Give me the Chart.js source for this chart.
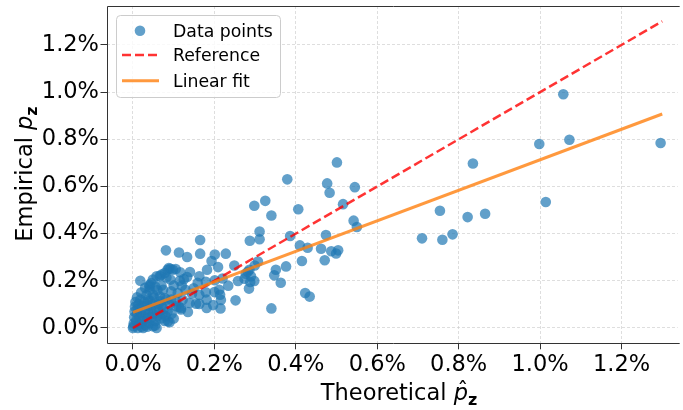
<!DOCTYPE html>
<html>
<head>
<meta charset="utf-8">
<script src="https://cdn.jsdelivr.net/npm/chart.js@4.4.1/dist/chart.umd.min.js"></script>
<style>
  html, body { margin: 0; padding: 0; background: #fff; overflow: hidden; }
</style>
</head>
<body>
<canvas id="chart" width="683" height="410"></canvas>
<script>
"use strict";

// theoretical p_z in percent (x)
const theoX = [
  // right side
  0.710, 0.754, 0.760, 0.785, 0.822, 0.835, 0.865, 0.998, 1.014, 1.057, 1.072, 1.296,
  // middle
  0.501, 0.379, 0.477, 0.483, 0.545, 0.516, 0.325, 0.298, 0.340, 0.406,
  0.542, 0.550, 0.311, 0.311, 0.287, 0.386, 0.474, 0.410, 0.429, 0.462,
  0.487, 0.504, 0.499, 0.415, 0.471, 0.307, 0.299, 0.376, 0.351, 0.347,
  0.363, 0.298, 0.288, 0.285, 0.423, 0.434, 0.340,
  // left-middle
  0.165, 0.165, 0.201, 0.228, 0.193, 0.209, 0.182, 0.249, 0.163, 0.201,
  0.220, 0.179, 0.258, 0.274, 0.282, 0.290, 0.234, 0.212, 0.214, 0.216,
  0.252, 0.181, 0.181, 0.197, 0.215, 0.163, 0.163, 0.286, 0.277, 0.200,
  // left cluster
  0.081, 0.113, 0.133, 0.018, 0.049, 0.066, 0.085, 0.092, 0.098, 0.140,
  0.092, 0.125, 0.133, 0.040, 0.041, 0.074, 0.094, 0.110, 0.129, 0.094,
  0.106, 0.122, 0.139, 0.066, 0.078, 0.118, 0.106, 0.155, 0.086, 0.090,
  0.054, 0.001, 0.058, 0.070, 0.078, 0.088, 0.105, 0.082, 0.116, 0.149,
  0.145, 0.179, 0.118, 0.135, 0.113, 0.058, 0.049, 0.082, 0.066, 0.049,
  0.037, 0.041, 0.159,
  // near the origin
  0.000, 0.002, 0.003, 0.004, 0.005, 0.006, 0.008, 0.010, 0.012, 0.013,
  0.015, 0.016, 0.018, 0.020, 0.021, 0.022, 0.024, 0.026, 0.028, 0.030,
  0.031, 0.033, 0.035, 0.036, 0.038, 0.040, 0.042, 0.044, 0.046, 0.048,
  0.050, 0.052, 0.055, 0.057, 0.060, 0.063, 0.065, 0.068, 0.070, 0.072,
  0.075, 0.078, 0.080, 0.085, 0.090, 0.095, 0.100, 0.060, 0.030, 0.020,
  0.010, 0.045, 0.070, 0.055, 0.100, 0.115, 0.120, 0.012, 0.025, 0.035
];

// empirical p_z in percent (y), same order
const empY = [
  0.380, 0.497, 0.374, 0.397, 0.470, 0.697, 0.484, 0.780, 0.534, 0.991, 0.798, 0.784,
  0.702, 0.630, 0.613, 0.573, 0.597, 0.525, 0.539, 0.518, 0.477, 0.503,
  0.455, 0.428, 0.409, 0.376, 0.370, 0.390, 0.394, 0.350, 0.340, 0.336,
  0.325, 0.329, 0.316, 0.284, 0.287, 0.282, 0.265, 0.261, 0.247, 0.223,
  0.192, 0.199, 0.195, 0.167, 0.148, 0.133, 0.083,
  0.373, 0.315, 0.311, 0.315, 0.284, 0.258, 0.247, 0.265, 0.219, 0.202,
  0.210, 0.196, 0.199, 0.209, 0.238, 0.219, 0.179, 0.162, 0.141, 0.119,
  0.117, 0.120, 0.085, 0.097, 0.083, 0.141, 0.102, 0.247, 0.230, 0.152,
  0.329, 0.320, 0.301, 0.200, 0.205, 0.220, 0.247, 0.251, 0.247, 0.237,
  0.205, 0.207, 0.216, 0.176, 0.162, 0.162, 0.155, 0.148, 0.162, 0.120,
  0.113, 0.120, 0.106, 0.113, 0.127, 0.085, 0.092, 0.103, 0.028, 0.024,
  0.010, 0.007, 0.219, 0.226, 0.233, 0.254, 0.250, 0.214, 0.236, 0.168,
  0.145, 0.151, 0.078, 0.068, 0.089, 0.000, 0.007, 0.120, 0.134, 0.141,
  0.120, 0.183, 0.191,
  0.000, 0.020, 0.045, 0.070, 0.090, 0.110, 0.030, 0.060, 0.080, 0.100,
  0.015, 0.040, 0.120, 0.065, 0.005, 0.095, 0.030, 0.050, 0.110, 0.075,
  0.012, 0.140, 0.040, 0.095, 0.060, 0.020, 0.115, 0.080, 0.045, 0.100,
  0.060, 0.130, 0.030, 0.085, 0.050, 0.100, 0.070, 0.040, 0.095, 0.060,
  0.080, 0.030, 0.050, 0.070, 0.100, 0.060, 0.040, 0.160, 0.170, 0.150,
  0.130, 0.190, 0.180, 0.175, 0.180, 0.200, 0.180, 0.000, 0.000, 0.005
];

const xTicks = [0, 0.2, 0.4, 0.6, 0.8, 1.0, 1.2];
const yTicks = [0, 0.2, 0.4, 0.6, 0.8, 1.0, 1.2];
const xMin = -0.065, xMax = 1.338;
const yMin = -0.065, yMax = 1.365;

// y = x reference and the fitted line
const refX = [0, 1.3];
const fitX = [0, 1.3];
const fitIntercept = 0.066;
const fitSlope = 0.647;

const legendLabels = ["Data points", "Reference", "Linear fit"];

const FONT = "DejaVu Sans";
const BLUE = "rgba(31,119,180,0.7)";
const RED = "rgba(255,0,0,0.8)";
const ORANGE = "rgba(255,127,14,0.8)";

Chart.defaults.font.family = FONT;
Chart.defaults.color = "#000";

// draws a run of text pieces (normal / italic / bold subscript) from x0
function drawPieces(ctx, pieces, x0, y0) {
  let x = x0;
  for (const p of pieces) {
    ctx.font = p.font;
    ctx.fillText(p.text, x, y0 + (p.dy || 0));
    if (p.hat) {
      const w = ctx.measureText(p.text).width;
      ctx.font = "22px " + FONT;
      ctx.textAlign = "center";
      ctx.fillText("\u02C6", x + w / 2 + 2, y0 - 3);
      ctx.textAlign = "left";
      ctx.font = p.font;
    }
    x += ctx.measureText(p.text).width;
  }
}
function piecesWidth(ctx, pieces) {
  let w = 0;
  for (const p of pieces) { ctx.font = p.font; w += ctx.measureText(p.text).width; }
  return w;
}

const framePlugin = {
  id: "frame",
  afterDatasetsDraw(chart) {
    const { ctx, chartArea: a } = chart;
    const l = Math.round(a.left) + 0.5, t = Math.round(a.top) + 0.5, b = Math.round(a.bottom) + 0.5;
    ctx.save();
    ctx.strokeStyle = "#333";
    ctx.lineWidth = 1;
    ctx.beginPath();
    ctx.moveTo(a.right + 2, t);
    ctx.lineTo(l, t);
    ctx.lineTo(l, b);
    ctx.lineTo(a.right + 2, b);
    ctx.stroke();
    ctx.restore();
  }
};

const labelPlugin = {
  id: "labels",
  afterDraw(chart) {
    const ctx = chart.ctx;
    ctx.save();
    ctx.fillStyle = "#000";
    ctx.textAlign = "left";
    ctx.textBaseline = "alphabetic";

    // x axis title
    const xp = [
      { text: "Theoretical ", font: "22.5px " + FONT },
      { text: "p", font: "italic 22.5px " + FONT, hat: true },
      { text: "z", font: "bold 16px " + FONT, dy: 5 }
    ];
    const xw = piecesWidth(ctx, xp);
    drawPieces(ctx, xp, 399 - xw / 2, 400);

    // y axis title
    const yp = [
      { text: "Empirical ", font: "22.5px " + FONT },
      { text: "p", font: "italic 22.5px " + FONT },
      { text: "z", font: "bold 16px " + FONT, dy: 5 }
    ];
    const yw = piecesWidth(ctx, yp);
    ctx.translate(32, 174);
    ctx.rotate(-Math.PI / 2);
    drawPieces(ctx, yp, -yw / 2, 0);
    ctx.restore();

    // legend box
    ctx.save();
    const bx = 116.5, by = 15.5, bw = 164, bh = 82, r = 4;
    ctx.beginPath();
    ctx.moveTo(bx + r, by);
    ctx.arcTo(bx + bw, by, bx + bw, by + bh, r);
    ctx.arcTo(bx + bw, by + bh, bx, by + bh, r);
    ctx.arcTo(bx, by + bh, bx, by, r);
    ctx.arcTo(bx, by, bx + bw, by, r);
    ctx.closePath();
    ctx.fillStyle = "rgba(255,255,255,0.8)";
    ctx.fill();
    ctx.strokeStyle = "#cccccc";
    ctx.lineWidth = 1;
    ctx.stroke();

    const ds = chart.data.datasets;
    const rows = [30.7, 55, 80.7];
    // marker: point
    ctx.fillStyle = ds[0].backgroundColor;
    ctx.beginPath();
    ctx.arc(140, rows[0], 5.3, 0, Math.PI * 2);
    ctx.fill();
    // marker: dashed line
    ctx.strokeStyle = ds[1].borderColor;
    ctx.lineWidth = ds[1].borderWidth;
    ctx.setLineDash(ds[1].borderDash);
    ctx.beginPath();
    ctx.moveTo(122, rows[1]);
    ctx.lineTo(159, rows[1]);
    ctx.stroke();
    ctx.setLineDash([]);
    // marker: solid line
    ctx.strokeStyle = ds[2].borderColor;
    ctx.lineWidth = ds[2].borderWidth;
    ctx.beginPath();
    ctx.moveTo(122, rows[2]);
    ctx.lineTo(159, rows[2]);
    ctx.stroke();

    ctx.fillStyle = "#000";
    ctx.font = "17.3px " + FONT;
    ctx.textBaseline = "alphabetic";
    ds.forEach((d, i) => ctx.fillText(d.label, 173, rows[i] + 5.8));
    ctx.restore();
  }
};

const points = theoX.map((x, i) => ({ x: x, y: empY[i] }));

new Chart(document.getElementById("chart"), {
  type: "scatter",
  data: {
    datasets: [
      {
        label: legendLabels[0],
        data: points,
        backgroundColor: BLUE,
        borderWidth: 0,
        pointRadius: 5.3,
        order: 3
      },
      {
        label: legendLabels[1],
        data: refX.map((x) => ({ x: x, y: x })),
        showLine: true,
        borderColor: RED,
        borderWidth: 2.5,
        borderDash: [9, 4],
        pointRadius: 0,
        order: 2
      },
      {
        label: legendLabels[2],
        data: fitX.map((x) => ({ x: x, y: fitIntercept + fitSlope * x })),
        showLine: true,
        borderColor: ORANGE,
        borderWidth: 3,
        pointRadius: 0,
        order: 1
      }
    ]
  },
  options: {
    responsive: false,
    animation: false,
    devicePixelRatio: 1,
    events: [],
    layout: { padding: { top: 6, left: 0, right: 0, bottom: 0 } },
    plugins: { legend: { display: false }, tooltip: { enabled: false } },
    scales: {
      x: {
        type: "linear",
        min: xMin,
        max: xMax,
        afterBuildTicks: (s) => { s.ticks = xTicks.map((v) => ({ value: v })); },
        afterFit: (s) => { s.height = 66.7; s.paddingLeft = 0; s.paddingRight = 0; },
        ticks: {
          font: { size: 22.5 },
          color: "#000",
          padding: 2,
          maxRotation: 0,
          autoSkip: false,
          callback: (v) => v.toFixed(1) + "%"
        },
        grid: {
          color: "rgba(200,200,200,0.75)",
          lineWidth: 0.8,
          tickLength: 6,
          tickColor: "#333",
          tickWidth: 1,
          tickBorderDash: []
        },
        border: { display: false, dash: [3, 2] }
      },
      y: {
        type: "linear",
        min: yMin,
        max: yMax,
        afterBuildTicks: (s) => { s.ticks = yTicks.map((v) => ({ value: v })); },
        afterFit: (s) => { s.width = 106.5; s.paddingTop = 0; s.paddingBottom = 0; },
        ticks: {
          font: { size: 22.5 },
          color: "#000",
          padding: 1.5,
          autoSkip: false,
          callback: (v) => v.toFixed(1) + "%"
        },
        grid: {
          color: "rgba(200,200,200,0.75)",
          lineWidth: 0.8,
          tickLength: 6,
          tickColor: "#333",
          tickWidth: 1,
          tickBorderDash: []
        },
        border: { display: false, dash: [3, 2] }
      }
    }
  },
  plugins: [framePlugin, labelPlugin]
});
</script>
</body>
</html>
